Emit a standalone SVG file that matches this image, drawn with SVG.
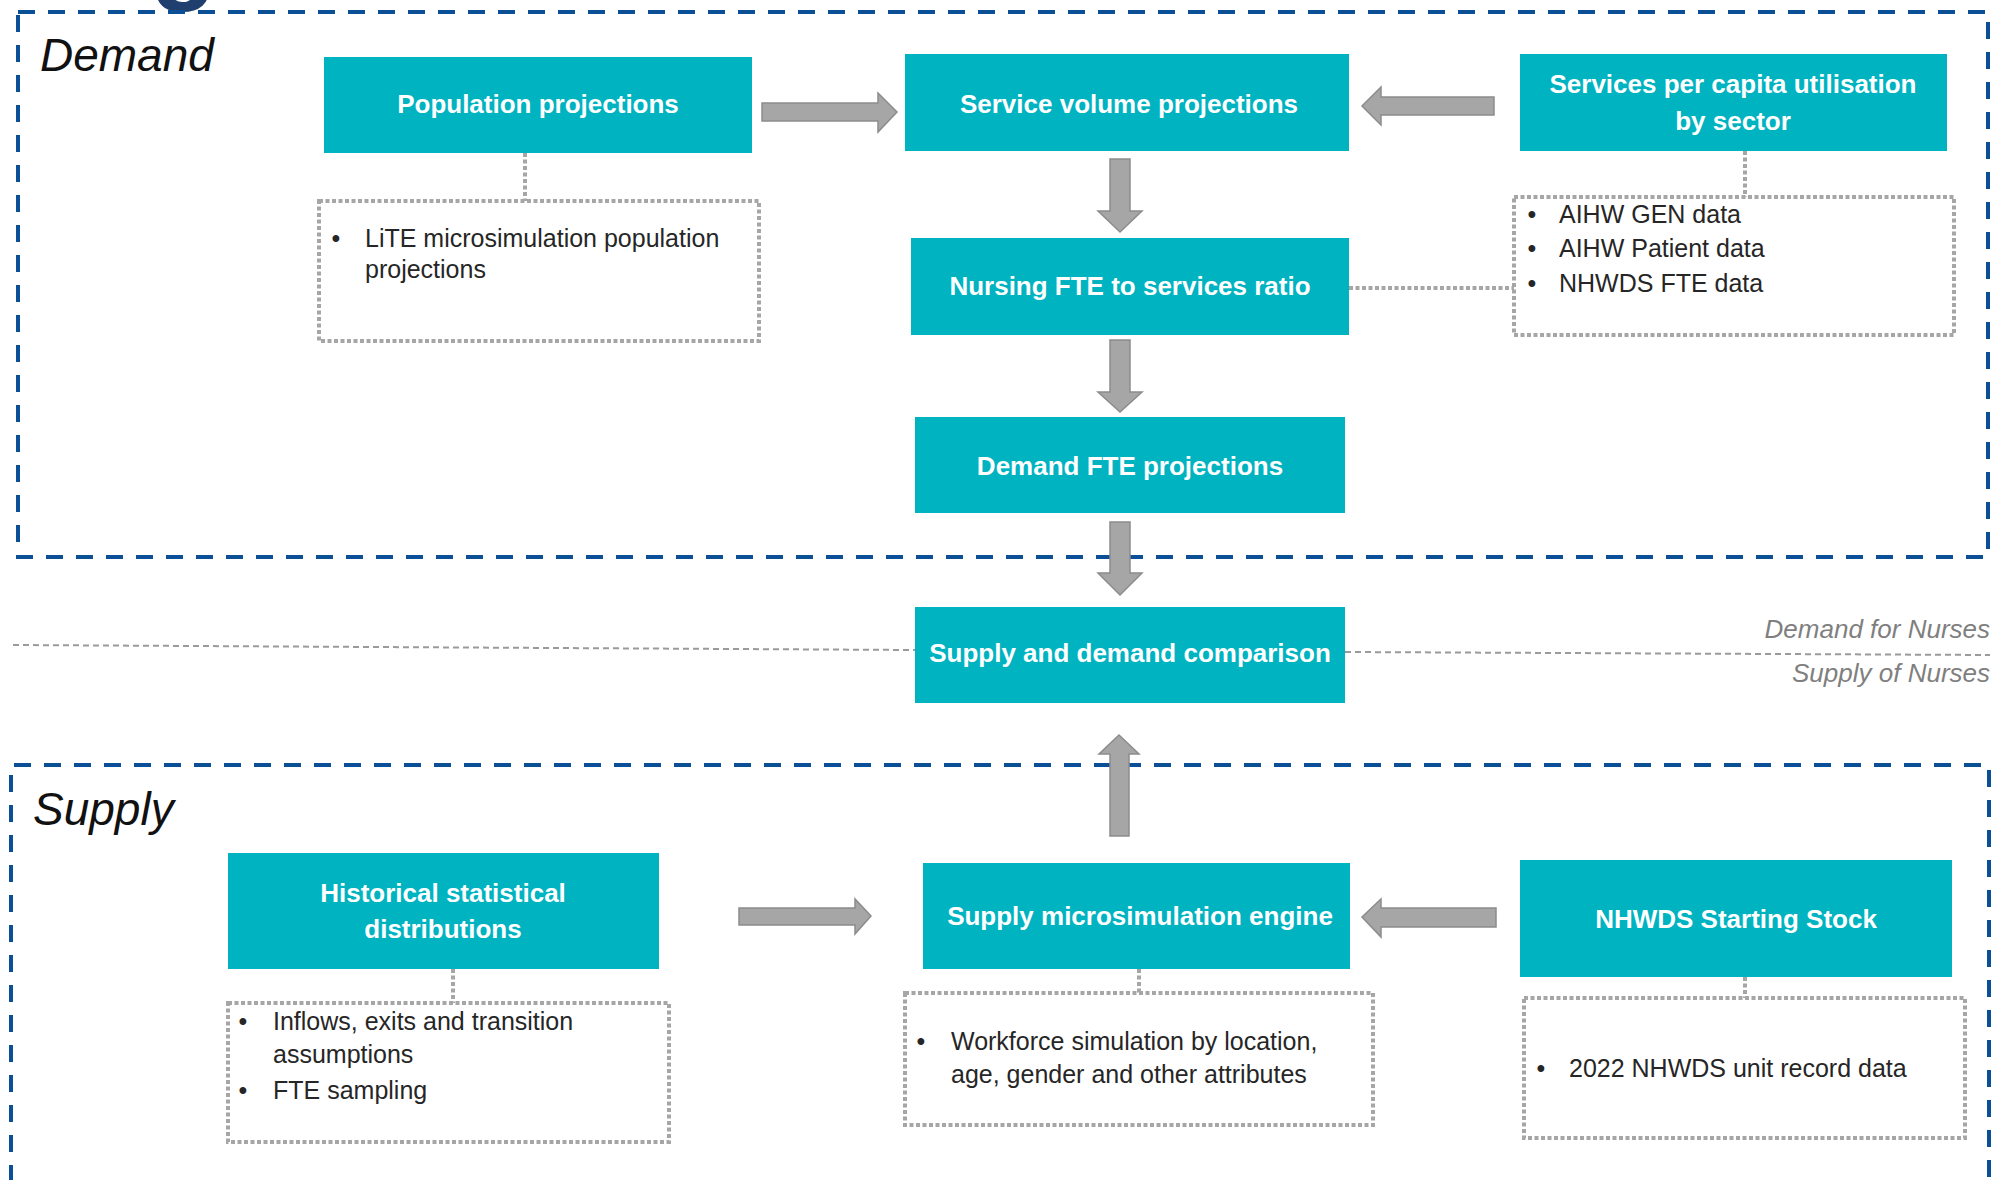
<svg xmlns="http://www.w3.org/2000/svg" width="2000" height="1180" viewBox="0 0 2000 1180">
<style>
.region{fill:none;stroke:#0B4F96;stroke-width:4;stroke-dasharray:17 13}
.sep{fill:none;stroke:#9A9A9A;stroke-width:2;stroke-dasharray:6 4}
.box{fill:#00B3C1}
.bt{font-family:"Liberation Sans",Arial,sans-serif;font-size:26px;font-weight:bold;fill:#FFFFFF;text-anchor:middle}
.note{fill:none;stroke:#A6A6A6;stroke-width:4;stroke-dasharray:4 2.5}
.nt{font-family:"Liberation Sans",Arial,sans-serif;font-size:25px;fill:#262626}
.bul{font-family:"Liberation Sans",Arial,sans-serif;font-size:25px;fill:#262626;text-anchor:middle}
.dot{fill:none;stroke:#A6A6A6;stroke-width:4;stroke-dasharray:4 2.5}
.arr{fill:#A6A6A6;stroke:#8C8C8C;stroke-width:1.5;stroke-linejoin:miter}
.sec{font-family:"Liberation Sans",Arial,sans-serif;font-style:italic;font-size:46px;fill:#111111}
.side{font-family:"Liberation Sans",Arial,sans-serif;font-style:italic;font-size:26px;fill:#7F7F7F;text-anchor:end}
</style>
<rect width="2000" height="1180" fill="#FFFFFF"/>
<text x="150" y="-11" font-family="Liberation Sans, Arial, sans-serif" font-weight="bold" font-size="110" fill="#1F3F6E">g</text>

<g id="demand-region">
<rect class="region" x="18" y="12" width="1970" height="545"/>
<text class="sec" x="40" y="71">Demand</text>
</g>
<g id="supply-region">
<path class="region" d="M11,1182 V765 H1989 V1182"/>
<text class="sec" x="33" y="825" font-size="45">Supply</text>
</g>

<g id="divider">
<line class="sep" x1="13" y1="645" x2="915" y2="650"/>
<line class="sep" x1="1345" y1="652" x2="1990" y2="655"/>
<text class="side" x="1990" y="638">Demand for Nurses</text>
<text class="side" x="1990" y="682">Supply of Nurses</text>
</g>

<g id="connectors">
<line class="dot" x1="525" y1="153" x2="525" y2="201"/>
<line class="dot" x1="1745" y1="151" x2="1745" y2="197"/>
<line class="dot" x1="1349" y1="288" x2="1514" y2="288"/>
<line class="dot" x1="453" y1="969" x2="453" y2="1003"/>
<line class="dot" x1="1139" y1="969" x2="1139" y2="993"/>
<line class="dot" x1="1745" y1="977" x2="1745" y2="998"/>
<polygon class="arr" points="762,103 878,103 878,93 897,112 878,132 878,121 762,121"/>
<polygon class="arr" points="1494,97 1381,97 1381,87 1362,106 1381,125 1381,115 1494,115"/>
<polygon class="arr" points="1110,159 1130,159 1130,211 1142,211 1120,232 1098,211 1110,211"/>
<polygon class="arr" points="1110,340 1130,340 1130,392 1142,392 1120,412 1098,392 1110,392"/>
<polygon class="arr" points="1110,522 1130,522 1130,573 1142,573 1120,595 1098,573 1110,573"/>
<polygon class="arr" points="1110,836 1129,836 1129,754 1139,754 1119,735 1099,754 1110,754"/>
<polygon class="arr" points="739,908 855,908 855,899 871,916 855,934 855,925 739,925"/>
<polygon class="arr" points="1496,908 1381,908 1381,899 1362,917 1381,937 1381,927 1496,927"/>
</g>

<g id="population-projections">
<rect class="box" x="324" y="57" width="428" height="96"/>
<text class="bt" x="538" y="113">Population projections</text>
</g>
<g id="service-volume-projections">
<rect class="box" x="905" y="54" width="444" height="97"/>
<text class="bt" x="1129" y="113">Service volume projections</text>
</g>
<g id="services-per-capita">
<rect class="box" x="1520" y="54" width="427" height="97"/>
<text class="bt" x="1733" y="93">Services per capita utilisation</text>
<text class="bt" x="1733" y="130">by sector</text>
</g>
<g id="nursing-fte-ratio">
<rect class="box" x="911" y="238" width="438" height="97"/>
<text class="bt" x="1130" y="295">Nursing FTE to services ratio</text>
</g>
<g id="demand-fte-projections">
<rect class="box" x="915" y="417" width="430" height="96"/>
<text class="bt" x="1130" y="475">Demand FTE projections</text>
</g>
<g id="supply-demand-comparison">
<rect class="box" x="915" y="607" width="430" height="96"/>
<text class="bt" x="1130" y="662">Supply and demand comparison</text>
</g>
<g id="historical-distributions">
<rect class="box" x="228" y="853" width="431" height="116"/>
<text class="bt" x="443" y="902">Historical statistical</text>
<text class="bt" x="443" y="938">distributions</text>
</g>
<g id="supply-microsimulation-engine">
<rect class="box" x="923" y="863" width="427" height="106"/>
<text class="bt" x="1140" y="925">Supply microsimulation engine</text>
</g>
<g id="nhwds-starting-stock">
<rect class="box" x="1520" y="860" width="432" height="117"/>
<text class="bt" x="1736" y="928">NHWDS Starting Stock</text>
</g>

<g id="note-population">
<rect class="note" x="319" y="201" width="440" height="140"/>
<text class="bul" x="336" y="247">•</text>
<text class="nt" x="365" y="247">LiTE microsimulation population</text>
<text class="nt" x="365" y="278">projections</text>
</g>
<g id="note-services">
<rect class="note" x="1514" y="197" width="440" height="138"/>
<text class="bul" x="1532" y="223">•</text>
<text class="nt" x="1559" y="223">AIHW GEN data</text>
<text class="bul" x="1532" y="257">•</text>
<text class="nt" x="1559" y="257">AIHW Patient data</text>
<text class="bul" x="1532" y="292">•</text>
<text class="nt" x="1559" y="292">NHWDS FTE data</text>
</g>
<g id="note-historical">
<rect class="note" x="228" y="1003" width="441" height="139"/>
<text class="bul" x="243" y="1030">•</text>
<text class="nt" x="273" y="1030">Inflows, exits and transition</text>
<text class="nt" x="273" y="1063">assumptions</text>
<text class="bul" x="243" y="1099">•</text>
<text class="nt" x="273" y="1099">FTE sampling</text>
</g>
<g id="note-microsimulation">
<rect class="note" x="905" y="993" width="468" height="132"/>
<text class="bul" x="921" y="1050">•</text>
<text class="nt" x="951" y="1050">Workforce simulation by location,</text>
<text class="nt" x="951" y="1083">age, gender and other attributes</text>
</g>
<g id="note-nhwds">
<rect class="note" x="1524" y="998" width="441" height="140"/>
<text class="bul" x="1541" y="1077">•</text>
<text class="nt" x="1569" y="1077">2022 NHWDS unit record data</text>
</g>
</svg>
